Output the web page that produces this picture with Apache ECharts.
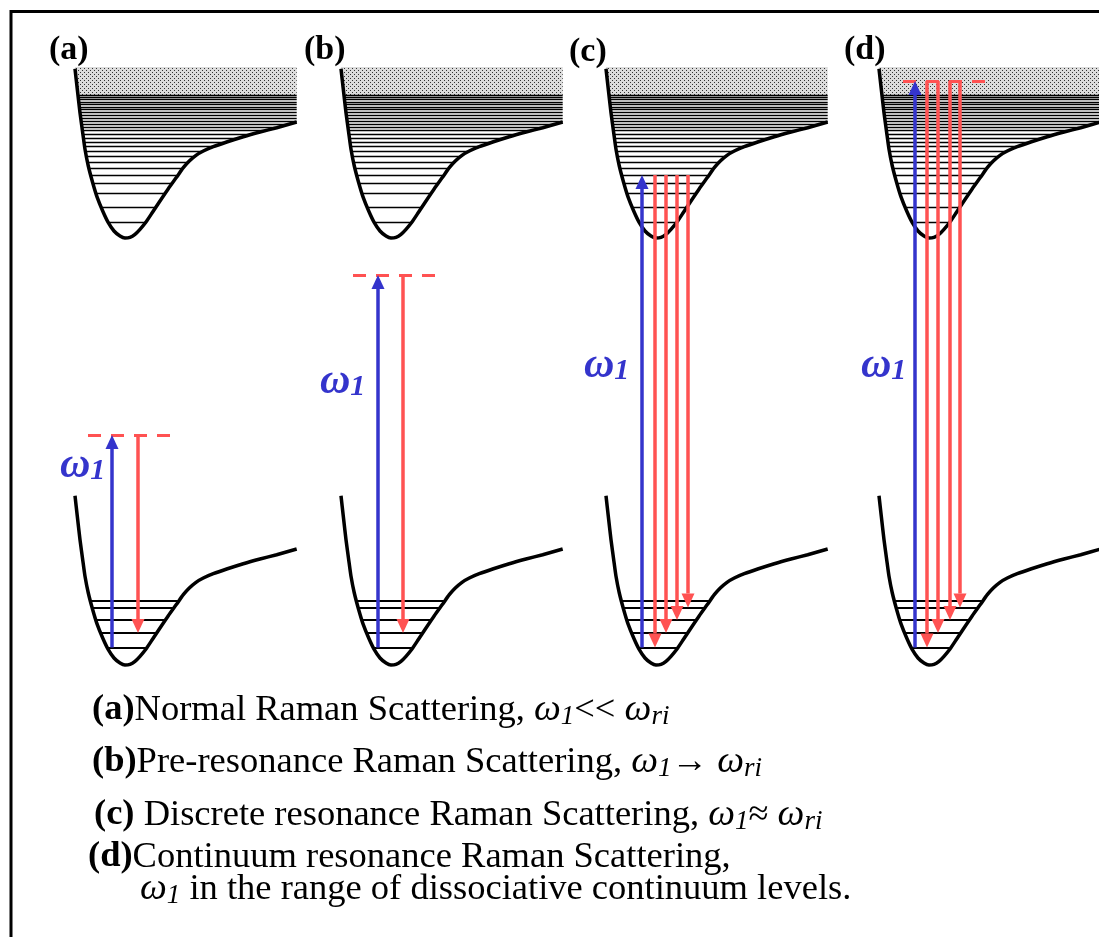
<!DOCTYPE html>
<html>
<head>
<meta charset="utf-8">
<script src="https://cdn.jsdelivr.net/npm/echarts@6/dist/echarts.min.js"></script>
<style>
html,body{margin:0;padding:0;background:#fff}
#main{width:1099px;height:937px}
</style>
</head>
<body>
<div id="main"></div>
<script>
// ---- data (pixel-like units, y grows downward) ----
var panels = ['(a)', '(b)', '(c)', '(d)'];
var wellX = [125, 391, 656, 929];          // x of the bottom of each well
var upperY = 238, lowerY = 665;            // y of the bottom of upper / lower well
// potential curve, relative to its minimum (index 12 is the minimum)
var curveDx = [-50, -47.7, -45, -42.3, -40, -36.7, -32.3, -27.7, -22.3, -16.7, -11, -5, 0,
               5, 10, 15, 21, 27.7, 35, 43.3, 51.7, 58.3, 64.3, 71, 78.3, 88.3, 101.7, 118.3, 135, 151.7, 171.7];
var curveDy = [-169.3, -148.7, -125.3, -105.3, -88.7, -72, -55.3, -40.3, -27, -15.3, -7, -2, 0,
               -0.7, -3.7, -8.7, -16, -26, -37, -49.3, -61, -70.3, -77, -82.7, -87, -91.3, -96, -101.3, -106, -110.3, -116];
var MIN_INDEX = 12;
var upperLevels = [-16, -31, -45, -55, -63, -70, -76, -82, -87, -92, -96, -100, -104, -107.5, -111, -114, -117, -120, -123, -126, -128.5, -131, -133.5, -136, -138.5, -141, -143];
var lowerLevels = [-17.5, -32, -45, -57.5, -64.5];
var continuum = [-171, -143];
var pumpTop = [435, 275, 175, 81];          // where the blue arrow ends
var blueX = [112, 378, 642, 915];
var redX = [[138], [403], [655, 666, 677, 688], [927, 938, 950, 960]];
var redTo = [[1], [1], [0, 1, 2, 3], [0, 1, 2, 3]];   // lower level the red arrow lands on
var dashFrom = [88, 353, null, 903];
var dashTo = [171, 437, null, 986];

var captions = [
  ['(a)', 'Normal Raman Scattering, ', '<<', ''],
  ['(b)', 'Pre-resonance Raman Scattering, ', '\u2192', ''],
  ['(c)', ' Discrete resonance Raman Scattering, ', '\u2248', ''],
  ['(d)', 'Continuum resonance Raman Scattering,', '', '']
];
var lastLine = ' in the range of dissociative continuum levels.';

// ---- layout ----
var BLUE = '#3434cc', RED = '#ff5252';
var SERIF = '"Liberation Serif", "Times New Roman", serif';
var omegaPos = [[60, 466], [320, 382], [584, 366], [861, 366]];
var panelLabelPos = [[49, 50], [304, 50], [569, 52], [844, 50]];
var captionY = [710, 762, 815, 857];

function branchX(dy, right) {
  var last = curveDx.length - 1;
  var i0 = right ? MIN_INDEX : 0, i1 = right ? last : MIN_INDEX;
  if (right && dy <= curveDy[last]) return curveDx[last];
  for (var i = i0; i < i1; i++) {
    var a = curveDy[i], b = curveDy[i + 1];
    if (a !== b && (dy - a) * (dy - b) <= 0) {
      return curveDx[i] + (dy - a) / (b - a) * (curveDx[i + 1] - curveDx[i]);
    }
  }
  return curveDx[right ? i1 : i0];
}

var series = [];

// potential curves
wellX.forEach(function (wx) {
  [upperY, lowerY].forEach(function (y0) {
    series.push({
      type: 'line',
      data: curveDx.map(function (dx, i) { return [wx + dx, y0 + curveDy[i]]; }),
      symbol: 'none',
      smooth: 0.2,
      z: 5,
      silent: true,
      lineStyle: { color: '#000', width: 3.5, join: 'round' }
    });
  });
});

// vibrational levels
function levelLines(levels, y0, width) {
  var d = [];
  wellX.forEach(function (wx) {
    levels.forEach(function (dy) {
      d.push({ coords: [[wx + branchX(dy, false), y0 + dy], [wx + branchX(dy, true), y0 + dy]] });
    });
  });
  return {
    type: 'lines',
    coordinateSystem: 'cartesian2d',
    data: d,
    symbol: 'none',
    silent: true,
    z: 2,
    lineStyle: { color: '#000', width: width, opacity: 1 }
  };
}
series.push(levelLines(upperLevels, upperY, 1.4));
series.push(levelLines(lowerLevels, lowerY, 2));

// dotted continuum
var dotCanvas = document.createElement('canvas');
dotCanvas.width = 4; dotCanvas.height = 4;
var dctx = dotCanvas.getContext('2d');
dctx.fillStyle = '#dcdcdc'; dctx.fillRect(0, 0, 4, 4);
dctx.fillStyle = '#333'; dctx.fillRect(0, 0, 1, 1); dctx.fillRect(2, 2, 1, 1);

series.push({
  type: 'custom',
  data: wellX.map(function (wx) { return [wx]; }),
  silent: true,
  z: 1,
  renderItem: function (params, api) {
    var wx = api.value(0);
    var top = continuum[0], bot = continuum[1];
    var last = curveDx.length - 1;
    var pts = [
      [wx + branchX(top, false), upperY + top],
      [wx + branchX(bot, false), upperY + bot],
      [wx + curveDx[last], upperY + bot],
      [wx + curveDx[last], upperY + top]
    ].map(function (p) { return api.coord(p); });
    return {
      type: 'polygon',
      shape: { points: pts },
      style: { fill: { image: dotCanvas, repeat: 'repeat' }, stroke: null }
    };
  }
});

// dashed virtual levels
var dashData = [];
dashFrom.forEach(function (x0, k) {
  if (x0 === null) return;
  dashData.push({ coords: [[x0, pumpTop[k]], [dashTo[k], pumpTop[k]]] });
});
series.push({
  type: 'lines',
  coordinateSystem: 'cartesian2d',
  data: dashData,
  symbol: 'none',
  silent: true,
  z: 6,
  lineStyle: { color: RED, width: 3, type: [13, 10], opacity: 1 }
});

// arrows: [x, yFrom, yTo, colour]
var arrowData = [];
wellX.forEach(function (wx, k) {
  arrowData.push([blueX[k], lowerY + lowerLevels[0], pumpTop[k], 0]);
  redX[k].forEach(function (rx, j) {
    arrowData.push([rx, pumpTop[k], lowerY + lowerLevels[redTo[k][j]], 1]);
  });
});
series.push({
  type: 'custom',
  data: arrowData,
  silent: true,
  z: 7,
  renderItem: function (params, api) {
    var p0 = api.coord([api.value(0), api.value(1)]);
    var p1 = api.coord([api.value(0), api.value(2)]);
    var col = api.value(3) === 0 ? BLUE : RED;
    var dir = p1[1] > p0[1] ? 1 : -1;
    var hl = 14, hw = 6.5;
    return {
      type: 'group',
      children: [{
        type: 'line',
        shape: { x1: p0[0], y1: p0[1], x2: p1[0], y2: p1[1] - dir * hl },
        style: { stroke: col, lineWidth: 3.5 }
      }, {
        type: 'polygon',
        shape: { points: [[p1[0], p1[1]], [p1[0] - hw, p1[1] - dir * hl], [p1[0] + hw, p1[1] - dir * hl]] },
        style: { fill: col }
      }]
    };
  }
});

// ---- text ----
var graphic = [{
  type: 'rect',
  shape: { x: 11, y: 11.5, width: 1300, height: 1000 },
  style: { fill: null, stroke: '#000', lineWidth: 3 },
  silent: true
}];

panels.forEach(function (p, k) {
  graphic.push({
    type: 'text', x: panelLabelPos[k][0], y: panelLabelPos[k][1], z: 10,
    style: { text: p, font: 'bold 34px ' + SERIF, fill: '#000', verticalAlign: 'middle' }
  });
  graphic.push({
    type: 'text', x: omegaPos[k][0], y: omegaPos[k][1], z: 10,
    style: {
      text: '{w|\u03c9}{s|1}',
      verticalAlign: 'middle',
      rich: {
        w: { font: 'italic bold 42px ' + SERIF, fill: BLUE, lineHeight: 40 },
        s: { font: 'italic bold 30px ' + SERIF, fill: BLUE, lineHeight: 24, verticalAlign: 'bottom' }
      }
    }
  });
});

var capRich = {
  b: { font: 'bold 36.5px ' + SERIF, fill: '#000', lineHeight: 40 },
  n: { font: '36.5px ' + SERIF, fill: '#000', lineHeight: 40 },
  i: { font: 'italic 38px ' + SERIF, fill: '#000', lineHeight: 40 },
  sub: { font: 'italic 27px ' + SERIF, fill: '#000', lineHeight: 24, verticalAlign: 'bottom' }
};
captions.forEach(function (c, k) {
  var t = '{b|' + c[0] + '}{n|' + c[1] + '}';
  if (c[2]) t += '{i|\u03c9}{sub|1}{n|' + c[2] + ' }{i|\u03c9}{sub|ri}';
  graphic.push({
    type: 'text', x: k === 3 ? 88 : (k === 2 ? 94 : 92), y: captionY[k], z: 10,
    style: { text: t, verticalAlign: 'middle', rich: capRich }
  });
});
graphic.push({
  type: 'text', x: 140, y: 889, z: 10,
  style: { text: '{i|\u03c9}{sub|1}{n|' + lastLine + '}', verticalAlign: 'middle', rich: capRich }
});

var chart = echarts.init(document.getElementById('main'));
chart.setOption({
  animation: false,
  backgroundColor: '#fff',
  grid: { left: 0, right: 0, top: 0, bottom: 0 },
  xAxis: { type: 'value', min: 0, max: 1099, show: false },
  yAxis: { type: 'value', min: 0, max: 937, inverse: true, show: false },
  graphic: graphic,
  series: series
});
window.addEventListener('resize', function () { chart.resize(); });
</script>
</body>
</html>
